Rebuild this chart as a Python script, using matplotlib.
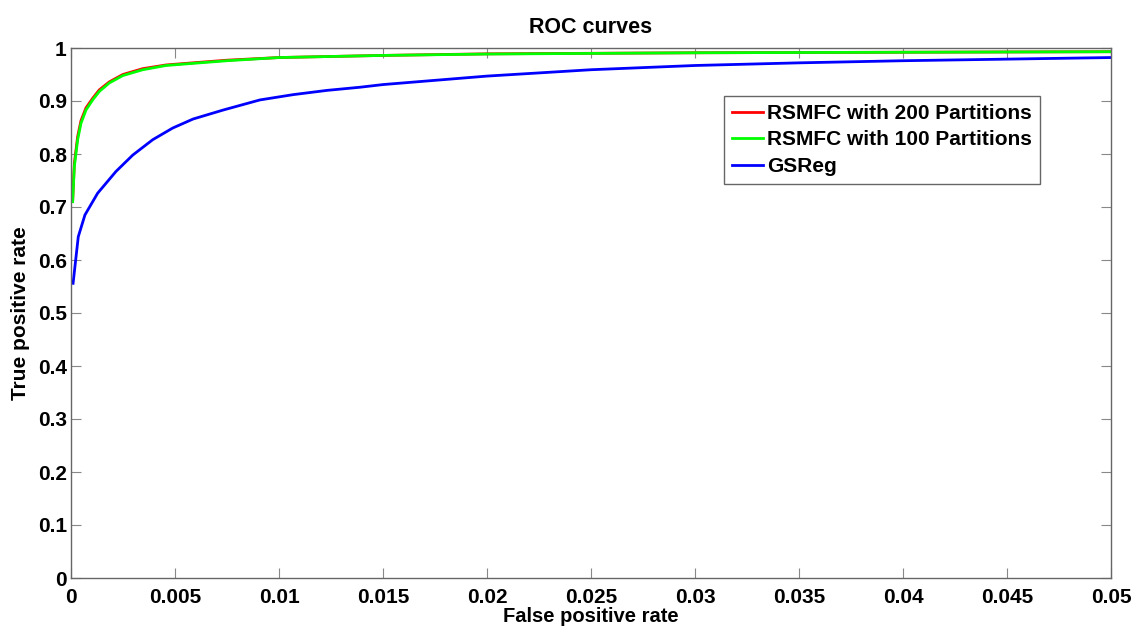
import matplotlib
matplotlib.use("Agg")
import matplotlib.pyplot as plt

plt.rcParams['font.family'] = ['Liberation Sans', 'DejaVu Sans']
plt.rcParams['font.weight'] = 'bold'

# ---- data ----
fpr_rsmfc = [0.00008, 0.00016, 0.00032, 0.00048, 0.00072, 0.00104, 0.00136, 0.00184,
             0.00249, 0.00345, 0.00457, 0.00553, 0.0075, 0.01, 0.015, 0.02, 0.03, 0.04, 0.05]
tpr_rsmfc200 = [0.712, 0.782, 0.833, 0.863, 0.887, 0.905, 0.921, 0.936,
                0.950, 0.961, 0.968, 0.971, 0.977, 0.982, 0.986, 0.989, 0.991, 0.992, 0.993]
tpr_rsmfc100 = [0.710, 0.776, 0.827, 0.858, 0.883, 0.902, 0.918, 0.934,
                0.948, 0.959, 0.967, 0.970, 0.976, 0.982, 0.986, 0.9886, 0.991, 0.992, 0.993]

fpr_gsreg = [0.0001, 0.00035, 0.00067, 0.00128, 0.00216, 0.00297, 0.00393, 0.00489,
             0.00587, 0.00732, 0.00908, 0.01068, 0.0123, 0.0139, 0.015, 0.02, 0.025,
             0.03, 0.035, 0.04, 0.045, 0.05]
tpr_gsreg = [0.556, 0.644, 0.685, 0.726, 0.767, 0.798, 0.827, 0.849,
             0.866, 0.883, 0.902, 0.912, 0.920, 0.926, 0.931, 0.947, 0.959,
             0.967, 0.972, 0.976, 0.979, 0.982]

labels = ['RSMFC with 200 Partitions', 'RSMFC with 100 Partitions', 'GSReg']
colors = ['#ff0000', '#00ff00', '#0000ff']

xticks = [0, 0.005, 0.01, 0.015, 0.02, 0.025, 0.03, 0.035, 0.04, 0.045, 0.05]
xticklabels = ['0', '0.005', '0.01', '0.015', '0.02', '0.025', '0.03', '0.035', '0.04', '0.045', '0.05']
yticks = [0, 0.1, 0.2, 0.3, 0.4, 0.5, 0.6, 0.7, 0.8, 0.9, 1]
yticklabels = ['0', '0.1', '0.2', '0.3', '0.4', '0.5', '0.6', '0.7', '0.8', '0.9', '1']

fig = plt.figure(figsize=(11.36, 6.26), dpi=100)
ax = fig.add_axes([71 / 1136, 1 - 578 / 626, 1040 / 1136, 530 / 626])

ax.plot(fpr_rsmfc, tpr_rsmfc200, color=colors[0], lw=2, label=labels[0])
ax.plot(fpr_rsmfc, tpr_rsmfc100, color=colors[1], lw=2, label=labels[1])
ax.plot(fpr_gsreg, tpr_gsreg, color=colors[2], lw=2, label=labels[2])

ax.set_xlim(0, 0.05)
ax.set_ylim(0, 1)
ax.set_xticks(xticks)
ax.set_xticklabels(xticklabels)
ax.set_yticks(yticks)
ax.set_yticklabels(yticklabels)

for s in ax.spines.values():
    s.set_color('#666666')
    s.set_linewidth(1.0)
ax.tick_params(direction='in', length=7, width=0.8, color='#888888',
               top=True, right=True, labelsize=15)
ax.tick_params(axis='x', pad=7)
ax.tick_params(axis='y', pad=3)
for lbl in ax.get_xticklabels() + ax.get_yticklabels():
    lbl.set_fontweight('bold')

ax.set_title('ROC curves', fontsize=15.5, fontweight='bold', pad=11)
ax.set_xlabel('False positive rate', fontsize=14.5, fontweight='bold')
ax.set_ylabel('True positive rate', fontsize=15, fontweight='bold')
ax.xaxis.set_label_coords(0.5, -0.0555)
ax.yaxis.set_label_coords(-0.0394, 0.5)

leg = ax.legend(loc='upper left', bbox_to_anchor=((724 - 71) / 1040, 1 - (96 - 48) / 530),
                frameon=True, fancybox=False, borderaxespad=0,
                handlelength=1.5, handletextpad=0.2, labelspacing=0.36,
                borderpad=0.38, prop={'weight': 'bold', 'size': 15})
leg.get_frame().set_edgecolor('#666666')
leg.get_frame().set_linewidth(1.0)
leg.get_frame().set_alpha(1)

fig.savefig('out.png', dpi=100)
